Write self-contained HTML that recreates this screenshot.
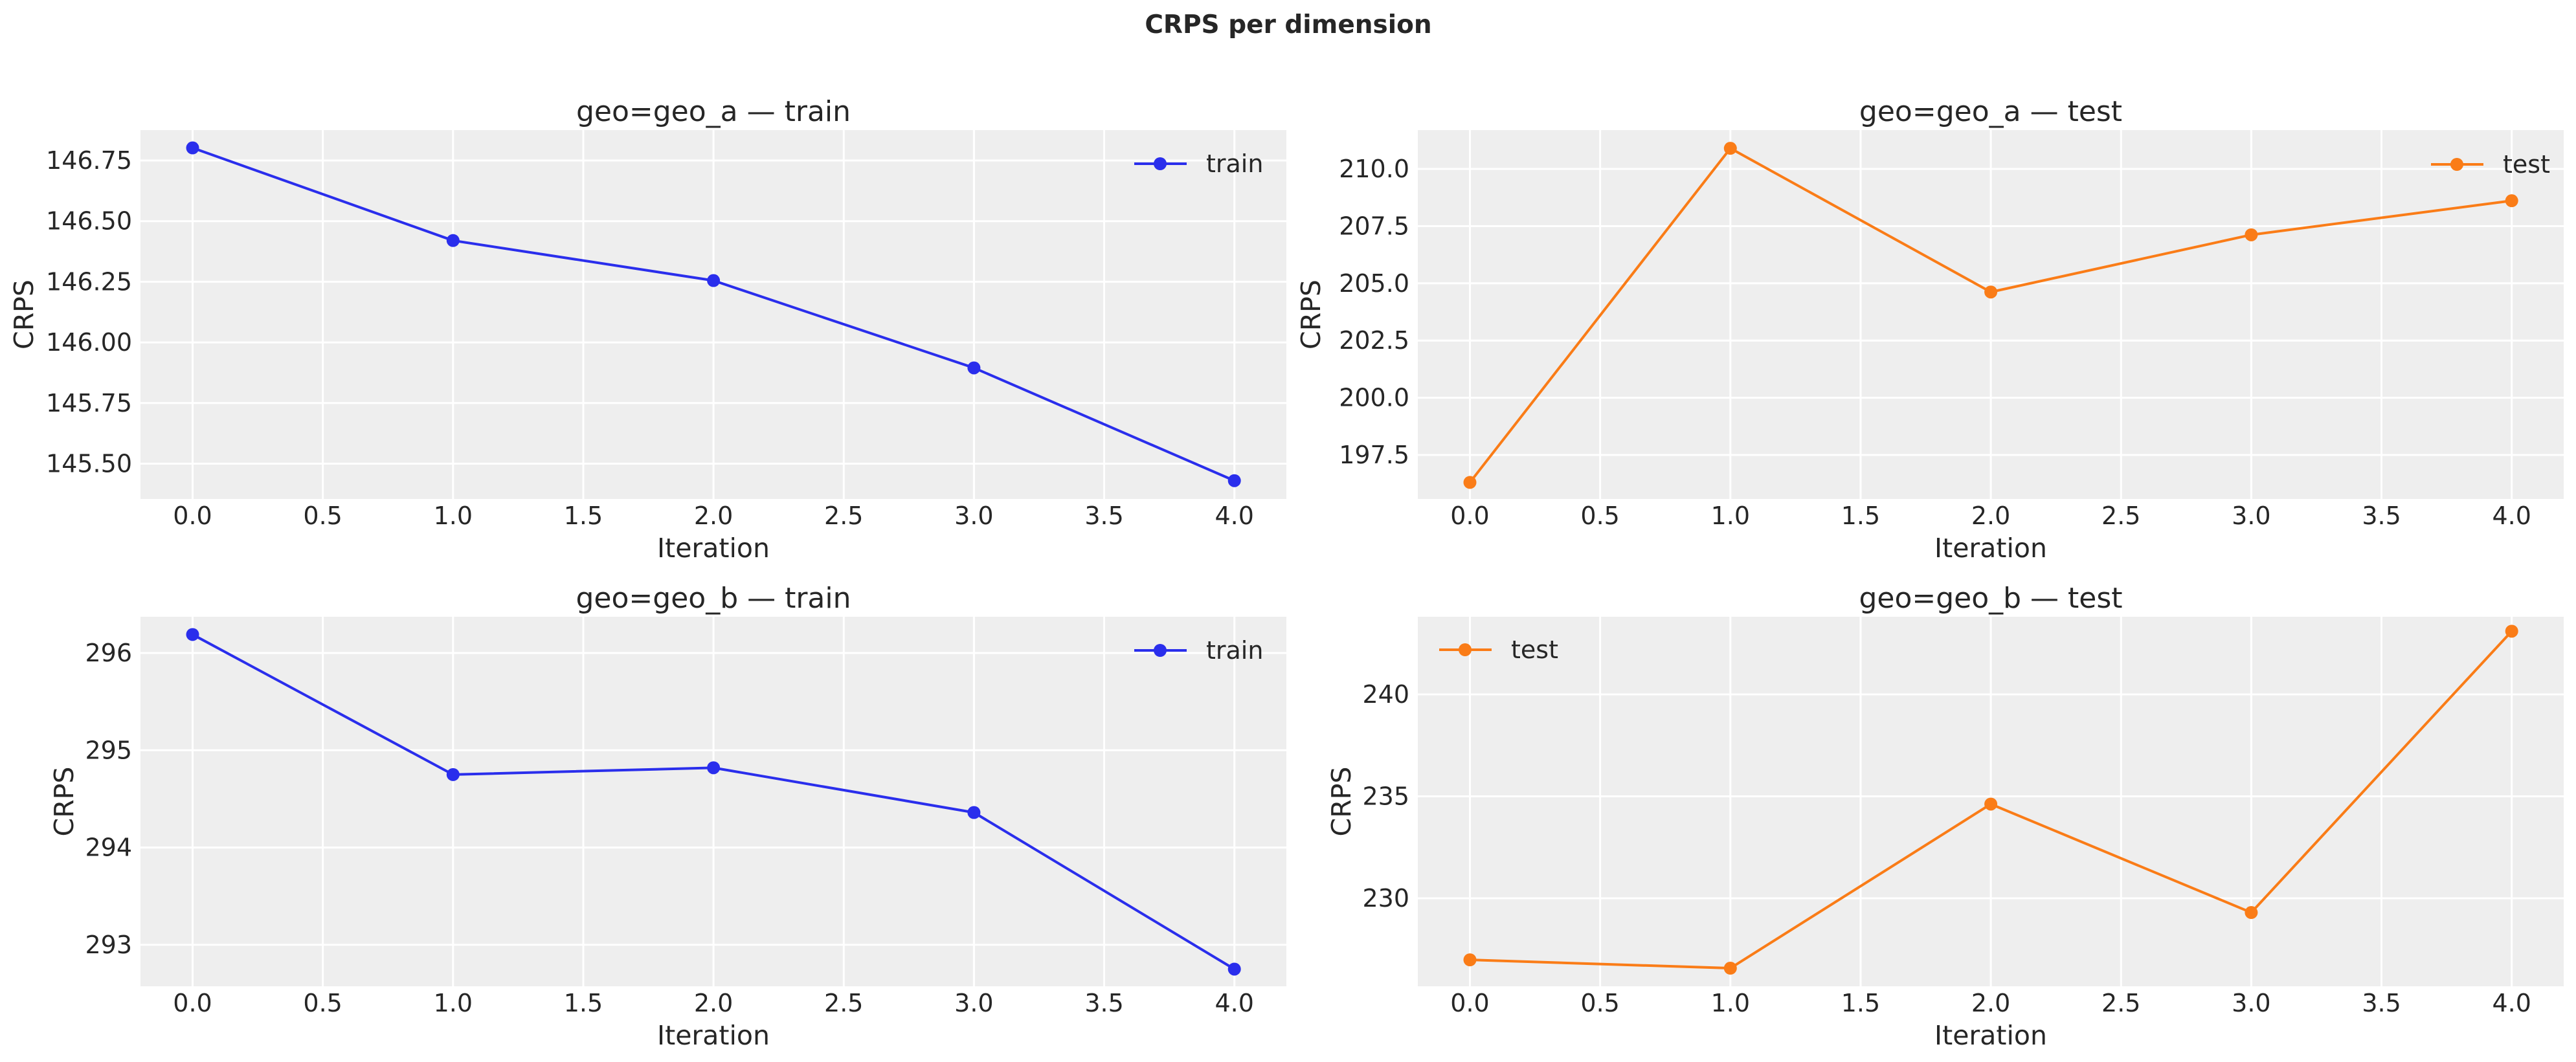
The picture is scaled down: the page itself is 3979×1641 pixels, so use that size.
<!DOCTYPE html>
<html><head><meta charset="utf-8"><style>
html,body{margin:0;padding:0;background:#fff}
svg{display:block}
text{font-family:"DejaVu Sans","Liberation Sans",sans-serif;fill:#262626}
.tk{font-size:38px}
.lb{font-size:41px}
.tt{font-size:44px}
.lg{font-size:38px}
</style></head><body>
<svg xmlns="http://www.w3.org/2000/svg" width="3979" height="1641" viewBox="0 0 3979 1641">
<text x="1990" y="51" text-anchor="middle" style="font-size:39px;font-weight:bold">CRPS per dimension</text>
<g id="panels"></g>
</svg>
<script>
const NS="http://www.w3.org/2000/svg";
const g=document.getElementById("panels");
function el(t,a,txt){const e=document.createElementNS(NS,t);for(const k in a)e.setAttribute(k,a[k]);if(txt!==undefined)e.textContent=txt;g.appendChild(e);return e;}
const P=[
 {x0:217,y0:201,y1:771,ref:146.75,refy:248,ppu:374.8,ticks:[145.5,145.75,146,146.25,146.5,146.75],fmt:v=>v.toFixed(2),
  vals:[146.802,146.42,146.255,145.895,145.43],col:"#2a2eec",title:"geo=geo_a \u2014 train",ylx:37,leg:{x:1752,y:253,t:"train"}},
 {x0:2190,y0:201,y1:771,ref:210,refy:261,ppu:35.36,ticks:[197.5,200,202.5,205,207.5,210],fmt:v=>v.toFixed(1),
  vals:[196.3,210.9,204.62,207.12,208.61],col:"#fa7c17",title:"geo=geo_a \u2014 test",ylx:2025,leg:{x:3755,y:254,t:"test"}},
 {x0:217,y0:953,y1:1524,ref:296,refy:1009,ppu:150.3,ticks:[293,294,295,296],fmt:v=>v.toFixed(0),
  vals:[296.19,294.75,294.82,294.36,292.75],col:"#2a2eec",title:"geo=geo_b \u2014 train",ylx:99,leg:{x:1752,y:1005,t:"train"}},
 {x0:2190,y0:953,y1:1524,ref:240,refy:1073,ppu:31.5,ticks:[230,235,240],fmt:v=>v.toFixed(0),
  vals:[226.98,226.57,234.62,229.3,243.1],col:"#fa7c17",title:"geo=geo_b \u2014 test",ylx:2072,leg:{x:2223,y:1004,t:"test"}}
];
P.forEach(p=>{
 const W=1770,x1=p.x0+W,xs=i=>p.x0+80.5+402.3*i,ys=v=>p.refy+(p.ref-v)*p.ppu;
 el("rect",{x:p.x0,y:p.y0,width:W,height:p.y1-p.y0,fill:"#eeeeee"});
 for(let k=0;k<=8;k++){const x=xs(k/2);el("line",{x1:x,x2:x,y1:p.y0,y2:p.y1,stroke:"#fff","stroke-width":3});
  el("text",{x:x,y:p.y1+39,"text-anchor":"middle",class:"tk"},(k/2).toFixed(1));}
 p.ticks.forEach(v=>{const y=ys(v);el("line",{x1:p.x0,x2:x1,y1:y,y2:y,stroke:"#fff","stroke-width":3});
  el("text",{x:p.x0-13,y:y+13,"text-anchor":"end",class:"tk"},p.fmt(v));});
 el("text",{x:p.x0+W/2,y:p.y0-14,"text-anchor":"middle",class:"tt"},p.title);
 el("text",{x:p.x0+W/2,y:p.y1+90,"text-anchor":"middle",class:"lb"},"Iteration");
 const cy=(p.y0+p.y1)/2;
 el("text",{x:p.ylx+14,y:cy,"text-anchor":"middle",class:"lb",transform:`rotate(-90 ${p.ylx+14} ${cy})`},"CRPS");
 el("polyline",{points:p.vals.map((v,i)=>xs(i)+","+ys(v)).join(" "),fill:"none",stroke:p.col,"stroke-width":4,"stroke-linejoin":"round"});
 p.vals.forEach((v,i)=>el("circle",{cx:xs(i),cy:ys(v),r:10,fill:p.col}));
 const L=p.leg;
 el("line",{x1:L.x,x2:L.x+81,y1:L.y,y2:L.y,stroke:p.col,"stroke-width":4});
 el("circle",{cx:L.x+40,cy:L.y,r:10,fill:p.col});
 el("text",{x:L.x+111,y:L.y+13,class:"lg"},L.t);
});
</script>
</body></html>
